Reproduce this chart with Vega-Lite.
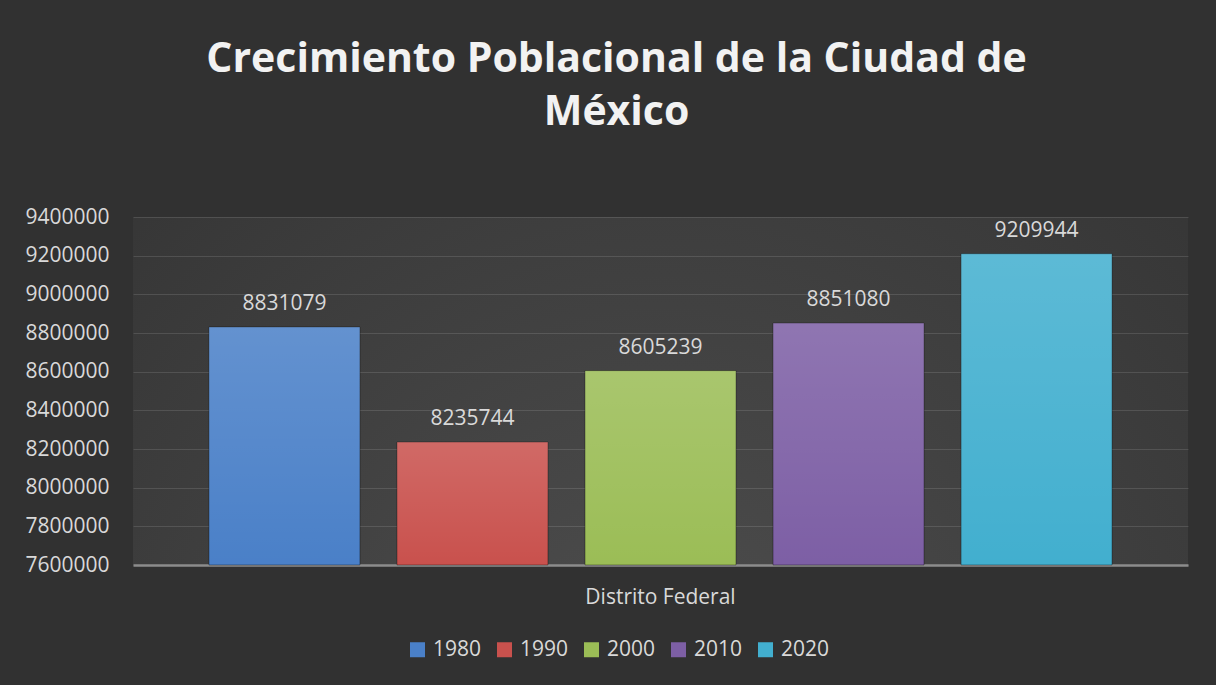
{
  "$schema": "https://vega.github.io/schema/vega-lite/v6.json",
  "width": 1055,
  "height": 348,
  "autosize": {"type": "none"},
  "padding": {"left": 133, "top": 217, "right": 28, "bottom": 120},
  "background": "#313131",
  "title": {
    "text": ["Crecimiento  Poblacional de la Ciudad de", "México"],
    "fontSize": 41,
    "fontWeight": "bold",
    "font": "Open Sans",
    "color": "#f2f2f2",
    "lineHeight": 53,
    "anchor": "middle",
    "dx": -44,
    "offset": 72
  },
  "data": {
    "values": [
      {"region": "Distrito Federal", "year": "1980", "value": 8831079},
      {"region": "Distrito Federal", "year": "1990", "value": 8235744},
      {"region": "Distrito Federal", "year": "2000", "value": 8605239},
      {"region": "Distrito Federal", "year": "2010", "value": 8851080},
      {"region": "Distrito Federal", "year": "2020", "value": 9209944}
    ]
  },
  "encoding": {
    "x": {
      "field": "region",
      "type": "nominal",
      "title": null,
      "scale": {"paddingInner": 0, "paddingOuter": 0},
      "axis": {
        "labelAngle": 0,
        "labelFontSize": 21,
        "labelColor": "#d9d9d9",
        "labelPadding": 21,
        "ticks": false,
        "domainColor": "#8c8c8c",
        "domainWidth": 2.5,
        "grid": false
      }
    },
    "xOffset": {
      "field": "year",
      "type": "nominal",
      "scale": {"paddingInner": 0.197, "paddingOuter": 0.404}
    },
    "y": {
      "field": "value",
      "type": "quantitative",
      "title": null,
      "scale": {"domain": [7600000, 9400000], "zero": false, "nice": false},
      "axis": {
        "values": [7600000, 7800000, 8000000, 8200000, 8400000, 8600000, 8800000, 9000000, 9200000, 9400000],
        "format": "d",
        "labelFontSize": 21,
        "labelColor": "#d9d9d9",
        "labelPadding": 24,
        "ticks": false,
        "domain": false,
        "gridColor": "#ffffff",
        "gridOpacity": 0.12,
        "gridWidth": 1
      }
    }
  },
  "layer": [
    {
      "mark": {"type": "bar", "stroke": "#000000", "strokeOpacity": 0.35, "strokeWidth": 1},
      "encoding": {
        "y2": {"datum": 7600000},
        "color": {
          "field": "year",
          "type": "nominal",
          "scale": {
            "domain": ["1980", "1990", "2000", "2010", "2020"],
            "range": ["#4a80c8", "#c9514d", "#9bbd56", "#7d5fa5", "#42afcf"]
          },
          "legend": {
            "title": null,
            "orient": "none",
            "direction": "horizontal",
            "legendX": 274,
            "legendY": 422,
            "symbolType": "square",
            "symbolSize": 225,
            "symbolStrokeWidth": 0,
            "symbolOpacity": 1,
            "labelFontSize": 21,
            "labelColor": "#d9d9d9",
            "labelOffset": 5,
            "columnPadding": 12
          }
        }
      }
    },
    {
      "mark": {
        "type": "bar",
        "fill": {
          "gradient": "linear",
          "x1": 0, "y1": 0, "x2": 0, "y2": 1,
          "stops": [
            {"offset": 0, "color": "rgba(255,255,255,0.14)"},
            {"offset": 1, "color": "rgba(255,255,255,0)"}
          ]
        }
      },
      "encoding": {"y2": {"datum": 7600000}}
    },
    {
      "mark": {"type": "text", "baseline": "alphabetic", "dy": -17, "fontSize": 21, "color": "#d9d9d9"},
      "encoding": {
        "text": {"field": "value", "type": "quantitative", "format": "d"}
      }
    }
  ],
  "config": {
    "font": "Open Sans",
    "view": {
      "stroke": null,
      "fill": {
        "gradient": "radial",
        "x1": 0.5, "y1": 0.8, "r1": 0,
        "x2": 0.5, "y2": 0.8, "r2": 0.85,
        "stops": [
          {"offset": 0, "color": "#4e4e4e"},
          {"offset": 1, "color": "#313131"}
        ]
      }
    }
  }
}
